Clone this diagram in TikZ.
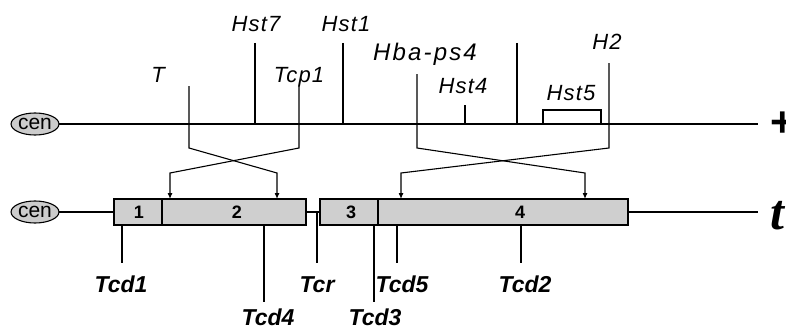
\documentclass[tikz,border=0pt]{standalone}
\usepackage{fontspec}
\setmainfont{Liberation Sans}
\newfontfamily\tfont{Liberation Serif}
\newfontfamily\spfont[LetterSpace=5]{Liberation Sans}
\newfontfamily\spwfont[LetterSpace=9]{Liberation Sans}
\usetikzlibrary{arrows.meta,shapes.geometric}
\begin{document}
\begin{tikzpicture}[x=1pt,y=-1pt,line width=1.1pt,
  toplab/.style={font=\fontsize{22}{22}\selectfont\spfont\itshape,anchor=base,inner sep=0},
  botlab/.style={font=\fontsize{23}{23}\selectfont\bfseries\itshape,anchor=base,inner sep=0},
  cenn/.style={ellipse,draw,fill=gray!40,minimum width=46pt,minimum height=22pt,inner sep=0,font=\fontsize{21}{21}\selectfont},
  segbox/.style={draw,fill=gray!38,minimum height=26pt,inner sep=0},
  segnum/.style={font=\fontsize{18}{18}\selectfont\bfseries,inner sep=0},
  arr/.style={-{Latex[length=6pt,width=5pt]}}]
\useasboundingbox (0,0) rectangle (786,329);

% ---------- top chromosome (+) ----------
\node[cenn] (c1) at (35,124) {cen};
\coordinate (e1) at (758,124);
\draw (c1) -- (e1);
\node[font=\fontsize{42}{42}\selectfont\bfseries,inner sep=0] (plus) at (783,124) {+};

% top markers
\node[toplab] (lT) at (158,82) {T};
\node[toplab] (lHst7) at (256,32) {Hst7};
\node[toplab] (lTcp1) at (299,82) {Tcp1};
\node[toplab] (lHst1) at (346,32) {Hst1};
\node[toplab,font=\fontsize{24}{24}\selectfont\spwfont\itshape] (lHba) at (425,60) {Hba-ps4};
\node[toplab] (lHst4) at (463,93) {Hst4};
\node[toplab] (lHst5) at (571,100) {Hst5};
\node[toplab] (lH2) at (607,49) {H2};

\draw (255,43) -- (255,124);
\draw (343,43) -- (343,124);
\draw (465,105) -- (465,124);
\draw (517,43) -- (517,124);
\draw (543,124) -- (543,110) -- (601,110) -- (601,124);

% ---------- bottom chromosome (t) ----------
\node[cenn] (c2) at (35,212) {cen};
\node[segbox,minimum width=48pt] (b1) at (138,212) {};
\node[segbox,minimum width=144pt] (b2) at (234,212) {};
\node[segbox,minimum width=58pt] (b3) at (349,212) {};
\node[segbox,minimum width=250pt] (b4) at (503,212) {};
\node[segnum] (n1) at (139,212) {1};
\node[segnum] (n2) at (237,212) {2};
\node[segnum] (n3) at (351,212) {3};
\node[segnum] (n4) at (520,212) {4};
\coordinate (e2) at (758,212);
\draw (c2) -- (b1.west);
\draw (b2.east) -- (b3.west);
\draw (b4.east) -- (e2);
\node[font=\fontsize{50}{50}\selectfont\tfont\bfseries\itshape,anchor=base west,inner sep=0] (tt) at (770,229) {t};

% inversion crossings
\draw[arr] (189,86) -- (189,148) -- (277,173) -- (277,199);
\draw[arr] (299,86) -- (299,148) -- (170,173) -- (170,199);
\draw[arr] (417,74) -- (417,148) -- (585,173) -- (585,199);
\draw[arr] (609,63) -- (609,148) -- (401,173) -- (401,199);

% bottom markers
\node[botlab] (lTcd1) at (121,292) {Tcd1};
\node[botlab] (lTcd4) at (268,325) {Tcd4};
\node[botlab] (lTcr) at (317,292) {Tcr};
\node[botlab] (lTcd3) at (375,325) {Tcd3};
\node[botlab] (lTcd5) at (402,292) {Tcd5};
\node[botlab] (lTcd2) at (525,292) {Tcd2};

\draw (122,225) -- (122,263);
\draw (264,225) -- (264,302);
\draw (317,212) -- (317,263);
\draw (374,225) -- (374,302);
\draw (397,225) -- (397,263);
\draw (521,225) -- (521,263);
\end{tikzpicture}
\end{document}
